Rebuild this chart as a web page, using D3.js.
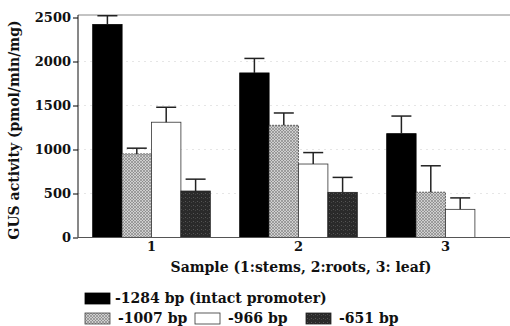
<!DOCTYPE html>
<html>
<head>
<meta charset="utf-8">
<script src="https://cdn.jsdelivr.net/npm/d3@7"></script>
<style>
  html, body { margin: 0; padding: 0; background: #fff; }
  text { font-family: "DejaVu Serif", serif; font-weight: bold; fill: #111; }
</style>
</head>
<body>
<div id="chart"></div>
<script>
// samples on the x axis
const samples = ['1', '2', '3'];
// promoter deletion series
const seriesNames = ['-1284 bp (intact promoter)', '-1007 bp', '-966 bp', '-651 bp'];
// GUS activity (pmol/min/mg), one array per series, in sample order
const act1284 = [2420, 1870, 1180];
const act1007 = [950, 1275, 515];
const act966 = [1310, 835, 320];
const act651 = [528, 513, 0];
// error bar heights
const err1284 = [100, 165, 200];
const err1007 = [65, 140, 300];
const err966 = [170, 130, 130];
const err651 = [135, 170, 0];
const yTicks = [0, 500, 1000, 1500, 2000, 2500];

const width = 510, height = 326;
const margin = { top: 15, right: 0, bottom: 88, left: 78 };

const svg = d3.select('#chart')
  .append('svg')
  .attr('width', width)
  .attr('height', height);

const defs = svg.append('defs');
const hatch = defs.append('pattern')
  .attr('id', 'hatch')
  .attr('patternUnits', 'userSpaceOnUse')
  .attr('width', 3).attr('height', 3);
hatch.append('rect').attr('width', 3).attr('height', 3).attr('fill', '#cfcfcf');
hatch.append('path').attr('d', 'M0,3 L3,0 M0,0 L3,3').attr('stroke', '#7a7a7a').attr('stroke-width', 0.6);

const speckle = defs.append('pattern')
  .attr('id', 'speckle')
  .attr('patternUnits', 'userSpaceOnUse')
  .attr('width', 4).attr('height', 4);
speckle.append('rect').attr('width', 4).attr('height', 4).attr('fill', '#2a2a2a');
speckle.append('rect').attr('x', 1).attr('y', 1).attr('width', 1).attr('height', 1).attr('fill', '#555');
speckle.append('rect').attr('x', 3).attr('y', 2).attr('width', 1).attr('height', 1).attr('fill', '#444');

const fills = ['#000', 'url(#hatch)', '#fff', 'url(#speckle)'];
const strokes = ['#000', '#444', '#333', '#222'];

const series = [
  { name: seriesNames[0], values: act1284, errs: err1284 },
  { name: seriesNames[1], values: act1007, errs: err1007 },
  { name: seriesNames[2], values: act966, errs: err966 },
  { name: seriesNames[3], values: act651, errs: err651 },
];

const x0 = d3.scaleBand()
  .domain(samples)
  .range([margin.left, margin.left + 441])
  .paddingInner(0.2)
  .paddingOuter(0.1);
const x1 = d3.scaleBand()
  .domain(d3.range(series.length))
  .range([0, x0.bandwidth()]);
const y = d3.scaleLinear()
  .domain([0, 2500])
  .range([237.5, 17.5]);

// faint grid
svg.append('g')
  .selectAll('line')
  .data(yTicks.slice(1, -1))
  .join('line')
  .attr('x1', margin.left).attr('x2', width)
  .attr('y1', (d) => y(d)).attr('y2', (d) => y(d))
  .attr('stroke', '#e6e6e6')
  .attr('stroke-dasharray', '2,4');

// top frame line
svg.append('line')
  .attr('x1', margin.left).attr('x2', width)
  .attr('y1', margin.top).attr('y2', margin.top)
  .attr('stroke', '#888').attr('stroke-width', 1);

const rows = [];
samples.forEach((s, i) => {
  series.forEach((ser, j) => {
    if (ser.values[i] > 0) rows.push({ s, j, v: ser.values[i], e: ser.errs[i] });
  });
});

const g = svg.append('g');
g.selectAll('rect.bar')
  .data(rows)
  .join('rect')
  .attr('class', 'bar')
  .attr('x', (d) => x0(d.s) + x1(d.j))
  .attr('y', (d) => y(d.v))
  .attr('width', x1.bandwidth())
  .attr('height', (d) => y(0) - y(d.v))
  .attr('fill', (d) => fills[d.j])
  .attr('stroke', (d) => strokes[d.j])
  .attr('stroke-width', 0.8)
  .attr('stroke-dasharray', (d) => (d.j === 1 ? '2,1' : null));

// error bars
const cx = (d) => x0(d.s) + x1(d.j) + x1.bandwidth() / 2;
g.selectAll('line.err')
  .data(rows)
  .join('line')
  .attr('class', 'err')
  .attr('x1', cx).attr('x2', cx)
  .attr('y1', (d) => y(d.v)).attr('y2', (d) => y(d.v + d.e))
  .attr('stroke', '#222').attr('stroke-width', 1.5);
g.selectAll('line.cap')
  .data(rows)
  .join('line')
  .attr('class', 'cap')
  .attr('x1', (d) => cx(d) - 10).attr('x2', (d) => cx(d) + 10)
  .attr('y1', (d) => y(d.v + d.e)).attr('y2', (d) => y(d.v + d.e))
  .attr('stroke', '#222').attr('stroke-width', 1.5);

// y axis
const yAxis = svg.append('g')
  .attr('transform', `translate(${margin.left},0)`)
  .call(d3.axisLeft(y).tickValues(yTicks).tickFormat(d3.format('d'))
    .tickSize(5).tickPadding(2).tickSizeOuter(0));
yAxis.select('.domain').attr('d', `M0,${margin.top}V${y(0)}`).attr('stroke', '#111');
yAxis.selectAll('text').style('font-size', '13px');

// x axis
const xAxis = svg.append('g')
  .attr('transform', `translate(0,${y(0)})`)
  .call(d3.axisBottom(x0).tickSize(0).tickPadding(4));
xAxis.select('.domain').attr('d', `M${margin.left},0H${width}`).attr('stroke', '#555');
xAxis.selectAll('text').style('font-size', '13px');

// axis titles
svg.append('text')
  .attr('transform', 'translate(19,130) rotate(-90)')
  .attr('text-anchor', 'middle')
  .style('font-size', '14px')
  .text('GUS activity (pmol/min/mg)');
svg.append('text')
  .attr('x', 301).attr('y', 272)
  .attr('text-anchor', 'middle')
  .style('font-size', '14px')
  .text('Sample (1:stems, 2:roots, 3: leaf)');

// legend
const legendPos = [
  { x: 85, y: 293 },
  { x: 85, y: 313 },
  { x: 195, y: 313 },
  { x: 306, y: 313 },
];
const leg = svg.append('g')
  .selectAll('g')
  .data(series)
  .join('g')
  .attr('transform', (d, i) => `translate(${legendPos[i].x},${legendPos[i].y})`);
leg.append('rect')
  .attr('width', 25).attr('height', 11)
  .attr('fill', (d, i) => fills[i])
  .attr('stroke', (d, i) => strokes[i])
  .attr('stroke-width', 0.8);
leg.append('text')
  .attr('x', (d, i) => (i === 0 ? 30 : 33))
  .attr('y', 10)
  .style('font-size', '14px')
  .text((d) => d.name);
</script>
</body>
</html>
